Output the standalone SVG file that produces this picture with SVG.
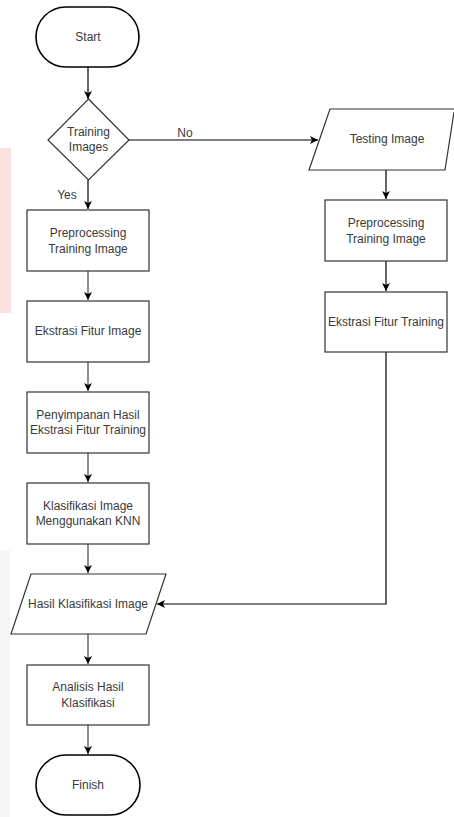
<svg xmlns="http://www.w3.org/2000/svg" width="454" height="817" viewBox="0 0 454 817">
<defs>
<style>
.sh{fill:#fff;stroke:#333;stroke-width:1.2}
.tm{fill:#fff;stroke:#000;stroke-width:1.6}
.t{font-family:"Liberation Sans",Arial,sans-serif;font-size:12px;fill:#3a3a3a;text-anchor:middle}
.c{fill:none;stroke:#000;stroke-width:1.2}
.cg{fill:none;stroke:#444;stroke-width:1.2}
</style>
<marker id="ah" markerWidth="10" markerHeight="10" refX="9" refY="5" orient="auto" markerUnits="userSpaceOnUse">
<path d="M1,1 L9,5 L1,9 L3,5 Z" fill="#000"/>
</marker>
</defs>
<rect x="0" y="0" width="454" height="817" fill="#fff"/>
<rect x="0" y="148" width="11" height="165" fill="#fde0e0"/>
<rect x="0" y="550" width="10" height="267" fill="#f6f6f6"/>
<g id="connectors">
<path class="c" d="M88,67 V99" marker-end="url(#ah)"/>
<path class="c" d="M129,140 H318" marker-end="url(#ah)"/>
<path class="c" d="M88,180 V209" marker-end="url(#ah)"/>
<path class="c" d="M386,170 V199" marker-end="url(#ah)"/>
<path class="c" d="M386,261 V291" marker-end="url(#ah)"/>
<path class="c" d="M386,352 V604 H157" marker-end="url(#ah)"/>
<path class="cg" d="M88,271 V300" marker-end="url(#ah)"/>
<path class="cg" d="M88,362 V391" marker-end="url(#ah)"/>
<path class="cg" d="M88,453 V482" marker-end="url(#ah)"/>
<path class="cg" d="M88,544 V573" marker-end="url(#ah)"/>
<path class="cg" d="M88,634 V664" marker-end="url(#ah)"/>
<path class="cg" d="M88,725 V754" marker-end="url(#ah)"/>
<text class="t" x="185" y="137">No</text>
<text class="t" x="67" y="199">Yes</text>
</g>
<g id="start">
<rect class="tm" x="36" y="7" width="103" height="60" rx="30" ry="30"/>
<text class="t" x="88" y="41">Start</text>
</g>
<g id="decision">
<path class="sh" d="M88.5,99 L129,140 L88.5,180 L48,140 Z"/>
<text class="t" x="88.5" y="136">Training</text>
<text class="t" x="88.5" y="151">Images</text>
</g>
<g id="testing">
<path class="sh" d="M454,109 H330 L309,170 H445 L454,112"/>
<text class="t" x="387" y="143">Testing Image</text>
</g>
<g id="prep-right">
<rect class="sh" x="325" y="200" width="122" height="61"/>
<text class="t" x="386" y="227">Preprocessing</text>
<text class="t" x="386" y="243">Training Image</text>
</g>
<g id="ekstrasi-right">
<rect class="sh" x="325" y="292" width="122" height="60"/>
<text class="t" x="386" y="326">Ekstrasi Fitur Training</text>
</g>
<g id="prep-left">
<rect class="sh" x="27" y="210" width="122" height="61"/>
<text class="t" x="88" y="237">Preprocessing</text>
<text class="t" x="88" y="253">Training Image</text>
</g>
<g id="ekstrasi-left">
<rect class="sh" x="27" y="301" width="122" height="61"/>
<text class="t" x="88" y="335">Ekstrasi Fitur Image</text>
</g>
<g id="penyimpanan">
<rect class="sh" x="27" y="392" width="122" height="61"/>
<text class="t" x="88" y="419">Penyimpanan Hasil</text>
<text class="t" x="88" y="434">Ekstrasi Fitur Training</text>
</g>
<g id="klasifikasi">
<rect class="sh" x="27" y="483" width="122" height="61"/>
<text class="t" x="88" y="510">Klasifikasi Image</text>
<text class="t" x="88" y="525">Menggunakan KNN</text>
</g>
<g id="hasil">
<path class="sh" d="M31,574 H166 L146,634 H11 Z"/>
<text class="t" x="88" y="608">Hasil Klasifikasi Image</text>
</g>
<g id="analisis">
<rect class="sh" x="27" y="665" width="122" height="60"/>
<text class="t" x="88" y="691">Analisis Hasil</text>
<text class="t" x="88" y="707">Klasifikasi</text>
</g>
<g id="finish">
<rect class="tm" x="36" y="755" width="104" height="60" rx="30" ry="30"/>
<text class="t" x="88" y="789">Finish</text>
</g>
</svg>
